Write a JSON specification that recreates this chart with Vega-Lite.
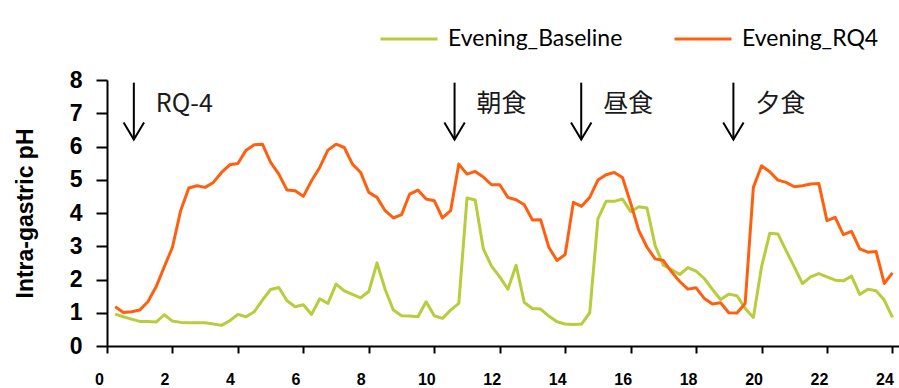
{
  "$schema": "https://vega.github.io/schema/vega-lite/v6.json",
  "autosize": {"type": "none"},
  "width": 792,
  "height": 266,
  "padding": {"left": 107, "top": 80, "right": 0, "bottom": 42},
  "background": "white",
  "config": {
    "view": {"stroke": null},
    "axis": {"grid": false, "domainColor": "black", "domainWidth": 2, "tickColor": "black", "tickWidth": 2, "labelColor": "black", "titleColor": "black", "labelFont": "Liberation Sans", "titleFont": "Liberation Sans", "labelOverlap": false},
    "axisX": {"tickSize": 7, "labelFontSize": 16, "labelFontWeight": "bold", "labelPadding": 18, "labelOffset": -8, "labelFlush": false, "labelBound": false},
    "axisY": {"tickSize": 11, "labelFontSize": 23, "labelFontWeight": "bold", "labelPadding": 14, "titleFontSize": 23, "titleFontWeight": "bold", "titleX": -82, "titleY": 133, "titleAngle": -90, "titleAlign": "center", "titleBaseline": "middle"}
  },
  "datasets": {
    "ph": [
      {"t": 0.25, "Evening_Baseline": 0.96, "Evening_RQ4": 1.18},
      {"t": 0.5, "Evening_Baseline": 0.88, "Evening_RQ4": 1.01},
      {"t": 0.75, "Evening_Baseline": 0.81, "Evening_RQ4": 1.03},
      {"t": 1.0, "Evening_Baseline": 0.74, "Evening_RQ4": 1.08},
      {"t": 1.25, "Evening_Baseline": 0.74, "Evening_RQ4": 1.33},
      {"t": 1.5, "Evening_Baseline": 0.72, "Evening_RQ4": 1.78},
      {"t": 1.75, "Evening_Baseline": 0.94, "Evening_RQ4": 2.38},
      {"t": 2.0, "Evening_Baseline": 0.75, "Evening_RQ4": 2.97},
      {"t": 2.25, "Evening_Baseline": 0.71, "Evening_RQ4": 4.07},
      {"t": 2.5, "Evening_Baseline": 0.70, "Evening_RQ4": 4.75},
      {"t": 2.75, "Evening_Baseline": 0.70, "Evening_RQ4": 4.82},
      {"t": 3.0, "Evening_Baseline": 0.70, "Evening_RQ4": 4.77},
      {"t": 3.25, "Evening_Baseline": 0.66, "Evening_RQ4": 4.92},
      {"t": 3.5, "Evening_Baseline": 0.62, "Evening_RQ4": 5.22},
      {"t": 3.75, "Evening_Baseline": 0.76, "Evening_RQ4": 5.45},
      {"t": 4.0, "Evening_Baseline": 0.95, "Evening_RQ4": 5.49},
      {"t": 4.25, "Evening_Baseline": 0.88, "Evening_RQ4": 5.89},
      {"t": 4.5, "Evening_Baseline": 1.03, "Evening_RQ4": 6.05},
      {"t": 4.75, "Evening_Baseline": 1.38, "Evening_RQ4": 6.07},
      {"t": 5.0, "Evening_Baseline": 1.70, "Evening_RQ4": 5.52},
      {"t": 5.25, "Evening_Baseline": 1.76, "Evening_RQ4": 5.17},
      {"t": 5.5, "Evening_Baseline": 1.36, "Evening_RQ4": 4.69},
      {"t": 5.75, "Evening_Baseline": 1.18, "Evening_RQ4": 4.67},
      {"t": 6.0, "Evening_Baseline": 1.24, "Evening_RQ4": 4.50},
      {"t": 6.25, "Evening_Baseline": 0.95, "Evening_RQ4": 4.97},
      {"t": 6.5, "Evening_Baseline": 1.42, "Evening_RQ4": 5.37},
      {"t": 6.75, "Evening_Baseline": 1.28, "Evening_RQ4": 5.89},
      {"t": 7.0, "Evening_Baseline": 1.86, "Evening_RQ4": 6.07},
      {"t": 7.25, "Evening_Baseline": 1.66, "Evening_RQ4": 5.97},
      {"t": 7.5, "Evening_Baseline": 1.55, "Evening_RQ4": 5.47},
      {"t": 7.75, "Evening_Baseline": 1.45, "Evening_RQ4": 5.22},
      {"t": 8.0, "Evening_Baseline": 1.64, "Evening_RQ4": 4.62},
      {"t": 8.25, "Evening_Baseline": 2.50, "Evening_RQ4": 4.47},
      {"t": 8.5, "Evening_Baseline": 1.70, "Evening_RQ4": 4.07},
      {"t": 8.75, "Evening_Baseline": 1.08, "Evening_RQ4": 3.85},
      {"t": 9.0, "Evening_Baseline": 0.91, "Evening_RQ4": 3.95},
      {"t": 9.25, "Evening_Baseline": 0.90, "Evening_RQ4": 4.57},
      {"t": 9.5, "Evening_Baseline": 0.88, "Evening_RQ4": 4.69},
      {"t": 9.75, "Evening_Baseline": 1.33, "Evening_RQ4": 4.42},
      {"t": 10.0, "Evening_Baseline": 0.91, "Evening_RQ4": 4.37},
      {"t": 10.25, "Evening_Baseline": 0.83, "Evening_RQ4": 3.85},
      {"t": 10.5, "Evening_Baseline": 1.08, "Evening_RQ4": 4.07},
      {"t": 10.75, "Evening_Baseline": 1.28, "Evening_RQ4": 5.47},
      {"t": 11.0, "Evening_Baseline": 4.45, "Evening_RQ4": 5.17},
      {"t": 11.25, "Evening_Baseline": 4.39, "Evening_RQ4": 5.25},
      {"t": 11.5, "Evening_Baseline": 2.92, "Evening_RQ4": 5.08},
      {"t": 11.75, "Evening_Baseline": 2.40, "Evening_RQ4": 4.85},
      {"t": 12.0, "Evening_Baseline": 2.08, "Evening_RQ4": 4.85},
      {"t": 12.25, "Evening_Baseline": 1.71, "Evening_RQ4": 4.47},
      {"t": 12.5, "Evening_Baseline": 2.43, "Evening_RQ4": 4.40},
      {"t": 12.75, "Evening_Baseline": 1.31, "Evening_RQ4": 4.25},
      {"t": 13.0, "Evening_Baseline": 1.13, "Evening_RQ4": 3.79},
      {"t": 13.25, "Evening_Baseline": 1.11, "Evening_RQ4": 3.80},
      {"t": 13.5, "Evening_Baseline": 0.90, "Evening_RQ4": 2.97},
      {"t": 13.75, "Evening_Baseline": 0.73, "Evening_RQ4": 2.57},
      {"t": 14.0, "Evening_Baseline": 0.66, "Evening_RQ4": 2.75},
      {"t": 14.25, "Evening_Baseline": 0.65, "Evening_RQ4": 4.32},
      {"t": 14.5, "Evening_Baseline": 0.66, "Evening_RQ4": 4.20},
      {"t": 14.75, "Evening_Baseline": 1.00, "Evening_RQ4": 4.47},
      {"t": 15.0, "Evening_Baseline": 3.82, "Evening_RQ4": 4.99},
      {"t": 15.25, "Evening_Baseline": 4.35, "Evening_RQ4": 5.15},
      {"t": 15.5, "Evening_Baseline": 4.35, "Evening_RQ4": 5.22},
      {"t": 15.75, "Evening_Baseline": 4.42, "Evening_RQ4": 5.07},
      {"t": 16.0, "Evening_Baseline": 4.04, "Evening_RQ4": 4.30},
      {"t": 16.25, "Evening_Baseline": 4.19, "Evening_RQ4": 3.47},
      {"t": 16.5, "Evening_Baseline": 4.15, "Evening_RQ4": 2.97},
      {"t": 16.75, "Evening_Baseline": 3.02, "Evening_RQ4": 2.62},
      {"t": 17.0, "Evening_Baseline": 2.43, "Evening_RQ4": 2.57},
      {"t": 17.25, "Evening_Baseline": 2.30, "Evening_RQ4": 2.23},
      {"t": 17.5, "Evening_Baseline": 2.15, "Evening_RQ4": 1.94},
      {"t": 17.75, "Evening_Baseline": 2.36, "Evening_RQ4": 1.71},
      {"t": 18.0, "Evening_Baseline": 2.25, "Evening_RQ4": 1.75},
      {"t": 18.25, "Evening_Baseline": 2.03, "Evening_RQ4": 1.43},
      {"t": 18.5, "Evening_Baseline": 1.70, "Evening_RQ4": 1.26},
      {"t": 18.75, "Evening_Baseline": 1.40, "Evening_RQ4": 1.30},
      {"t": 19.0, "Evening_Baseline": 1.56, "Evening_RQ4": 1.00},
      {"t": 19.25, "Evening_Baseline": 1.51, "Evening_RQ4": 0.99},
      {"t": 19.5, "Evening_Baseline": 1.13, "Evening_RQ4": 1.28},
      {"t": 19.75, "Evening_Baseline": 0.86, "Evening_RQ4": 4.77},
      {"t": 20.0, "Evening_Baseline": 2.38, "Evening_RQ4": 5.42},
      {"t": 20.25, "Evening_Baseline": 3.39, "Evening_RQ4": 5.24},
      {"t": 20.5, "Evening_Baseline": 3.37, "Evening_RQ4": 4.99},
      {"t": 20.75, "Evening_Baseline": 2.87, "Evening_RQ4": 4.92},
      {"t": 21.0, "Evening_Baseline": 2.38, "Evening_RQ4": 4.79},
      {"t": 21.25, "Evening_Baseline": 1.88, "Evening_RQ4": 4.82},
      {"t": 21.5, "Evening_Baseline": 2.08, "Evening_RQ4": 4.87},
      {"t": 21.75, "Evening_Baseline": 2.18, "Evening_RQ4": 4.89},
      {"t": 22.0, "Evening_Baseline": 2.08, "Evening_RQ4": 3.77},
      {"t": 22.25, "Evening_Baseline": 1.98, "Evening_RQ4": 3.87},
      {"t": 22.5, "Evening_Baseline": 1.96, "Evening_RQ4": 3.35},
      {"t": 22.75, "Evening_Baseline": 2.10, "Evening_RQ4": 3.45},
      {"t": 23.0, "Evening_Baseline": 1.55, "Evening_RQ4": 2.92},
      {"t": 23.25, "Evening_Baseline": 1.71, "Evening_RQ4": 2.82},
      {"t": 23.5, "Evening_Baseline": 1.66, "Evening_RQ4": 2.84},
      {"t": 23.75, "Evening_Baseline": 1.38, "Evening_RQ4": 1.88},
      {"t": 24.0, "Evening_Baseline": 0.86, "Evening_RQ4": 2.20}
    ],
    "events": [
      {"t": 0.82, "label": "RQ-4", "top": 7.92, "tip": 6.21},
      {"t": 10.62, "label": "朝食", "top": 7.92, "tip": 6.21},
      {"t": 14.49, "label": "昼食", "top": 7.92, "tip": 6.21},
      {"t": 19.14, "label": "夕食", "top": 7.92, "tip": 6.21}
    ]
  },
  "layer": [
    {
      "data": {"name": "ph"},
      "transform": [{"fold": ["Evening_Baseline", "Evening_RQ4"], "as": ["series", "pH"]}],
      "mark": {"type": "line", "strokeWidth": 3, "strokeJoin": "round"},
      "encoding": {
        "x": {
          "field": "t", "type": "quantitative",
          "scale": {"domain": [0, 24.2], "nice": false, "zero": false},
          "axis": {"values": [0, 2, 4, 6, 8, 10, 12, 14, 16, 18, 20, 22, 24], "title": null}
        },
        "y": {
          "field": "pH", "type": "quantitative",
          "scale": {"domain": [0, 8], "nice": false},
          "axis": {"values": [0, 1, 2, 3, 4, 5, 6, 7, 8], "title": "Intra-gastric pH"}
        },
        "color": {
          "field": "series", "type": "nominal",
          "scale": {"domain": ["Evening_Baseline", "Evening_RQ4"], "range": ["#b8cc3c", "#ff6010"]},
          "legend": {
            "title": null, "orient": "none", "direction": "horizontal",
            "legendX": 272, "legendY": -71, "padding": 0,
            "symbolType": "stroke", "symbolSize": 3249, "symbolStrokeWidth": 3,
            "labelFont": "Lato", "labelFontSize": 23, "labelColor": "black", "labelLimit": 400,
            "labelOffset": 9, "columnPadding": 45
          }
        }
      }
    },
    {
      "data": {"name": "events"},
      "mark": {"type": "rule", "color": "black", "strokeWidth": 2},
      "encoding": {
        "x": {"field": "t", "type": "quantitative", "axis": {"values": [0, 2, 4, 6, 8, 10, 12, 14, 16, 18, 20, 22, 24], "title": null}},
        "y": {"field": "top", "type": "quantitative", "axis": {"values": [0, 1, 2, 3, 4, 5, 6, 7, 8], "title": "Intra-gastric pH"}},
        "y2": {"field": "tip"}
      }
    },
    {
      "data": {"name": "events"},
      "mark": {"type": "point", "shape": "M-0.6,-1L0,0L0.6,-1", "filled": false, "color": "black", "strokeWidth": 2, "size": 1156, "opacity": 1},
      "encoding": {
        "x": {"field": "t", "type": "quantitative", "axis": {"values": [0, 2, 4, 6, 8, 10, 12, 14, 16, 18, 20, 22, 24], "title": null}},
        "y": {"field": "tip", "type": "quantitative", "axis": {"values": [0, 1, 2, 3, 4, 5, 6, 7, 8], "title": "Intra-gastric pH"}}
      }
    },
    {
      "data": {"name": "events"},
      "mark": {"type": "text", "align": "left", "baseline": "middle", "dx": 22, "dy": 21, "font": "Noto Sans CJK JP", "fontSize": 25, "color": "#1a1a1a"},
      "encoding": {
        "x": {"field": "t", "type": "quantitative", "axis": {"values": [0, 2, 4, 6, 8, 10, 12, 14, 16, 18, 20, 22, 24], "title": null}},
        "y": {"field": "top", "type": "quantitative", "axis": {"values": [0, 1, 2, 3, 4, 5, 6, 7, 8], "title": "Intra-gastric pH"}},
        "text": {"field": "label"}
      }
    }
  ]
}
